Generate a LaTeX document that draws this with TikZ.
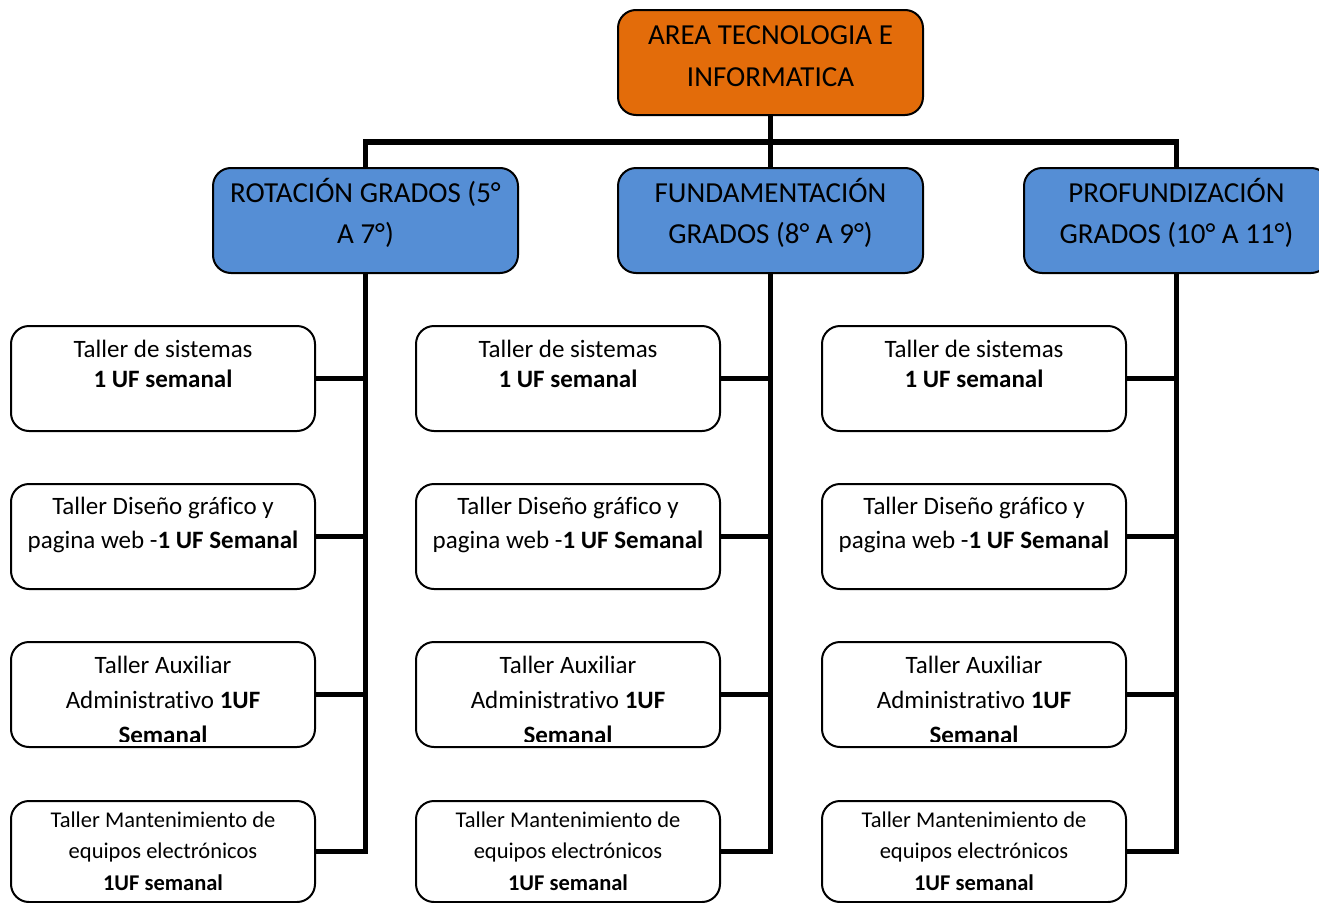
\documentclass[tikz,border=0pt]{standalone}
\usepackage{fontspec}
\setmainfont{Carlito}[Ligatures={NoCommon}]
\definecolor{orangeA}{HTML}{E36C0A}
\definecolor{blueA}{HTML}{558ED5}
\newcommand\mlines[2]{\vtop{\baselineskip=#1\relax\lineskiplimit=-\maxdimen\halign{\hfil##\hfil\cr#2\crcr}}}
\tikzset{
 boxbase/.style={draw=black, line width=2pt, rounded corners=18pt, minimum width=304pt, inner sep=0pt, outer sep=0pt, anchor=north west},
 headbox/.style={boxbase, minimum width=305pt, minimum height=105pt, fill=blueA},
 rootbox/.style={headbox, fill=orangeA},
 leafbox/.style={boxbase, minimum height=105pt, fill=white},
 bigtxt/.style={font=\fontsize{29}{41}\selectfont, anchor=base, inner sep=0pt},
 leaftxt/.style={font=\fontsize{25}{30}\selectfont, anchor=base, inner sep=0pt},
 smalltxt/.style={font=\fontsize{22.5}{31}\selectfont, anchor=base, inner sep=0pt},
 conn/.style={draw=black, line width=5.5pt, line join=miter}
}
\begin{document}
\begin{tikzpicture}[x=1pt,y=-1pt]
\useasboundingbox (0,0) rectangle (1319,902);
\clip (0,0) rectangle (1319,902);
\fill[white] (0,0) rectangle (1319,902);
\coordinate (barY) at (0,142);

% boxes
\node[rootbox] (root) at (618,10) {};
\node[headbox] (h1) at (213,168) {};
\node[headbox] (h2) at (618,168) {};
\node[headbox] (h3) at (1024,168) {};

\foreach \c/\x in {1/11,2/416,3/822}{
  \node[leafbox] (l\c1) at (\x,326) {};
  \node[leafbox] (l\c2) at (\x,484) {};
  \node[leafbox] (l\c3) at (\x,642) {};
  \node[leafbox, minimum height=101pt] (l\c4) at (\x,801) {};
}

% connectors
\draw[conn] (root.south) -- (h2.north);
\draw[conn] (h1.north) -- (h1.north |- barY) -- (h3.north |- barY) -- (h3.north);
\foreach \c in {1,2,3}{
  \draw[conn] (h\c.south) |- (l\c4.east);
  \foreach \r in {1,2,3}{
    \draw[conn] (l\c\r.east) -- (l\c\r.east -| h\c.south);
  }
}

% texts
\node[bigtxt] (troot) at (770.5,44) {\mlines{42pt}{AREA TECNOLOGIA E\cr INFORMATICA}};
\node[bigtxt] (th1) at (365.5,202) {\mlines{41pt}{ROTACIÓN GRADOS (5°\cr A 7°)}};
\node[bigtxt] (th2) at (770.5,202) {\mlines{41pt}{FUNDAMENTACIÓN\cr GRADOS (8° A 9°)}};
\node[bigtxt] (th3) at (1176.5,202) {\mlines{41pt}{PROFUNDIZACIÓN\cr GRADOS (10° A 11°)}};

\foreach \c/\x in {1/163,2/568,3/974}{
  \node[leaftxt] (t\c1) at (\x,357) {\mlines{30pt}{Taller de sistemas\cr\textbf{1 UF semanal}}};
  \node[leaftxt] (t\c2) at (\x,514) {\mlines{34pt}{Taller Diseño gráfico y\cr pagina web -\textbf{1 UF Semanal}}};
  \begin{scope}
    \clip ([yshift=6pt]l\c3.south west) rectangle (l\c3.north east);
    \node[leaftxt] (t\c3) at (\x,673) {\mlines{35pt}{Taller Auxiliar\cr Administrativo \textbf{1UF}\cr\textbf{Semanal}}};
  \end{scope}
  \node[smalltxt] (t\c4) at (\x,827) {\mlines{31.5pt}{Taller Mantenimiento de\cr equipos electrónicos\cr\textbf{1UF semanal}}};
}
\end{tikzpicture}
\end{document}
